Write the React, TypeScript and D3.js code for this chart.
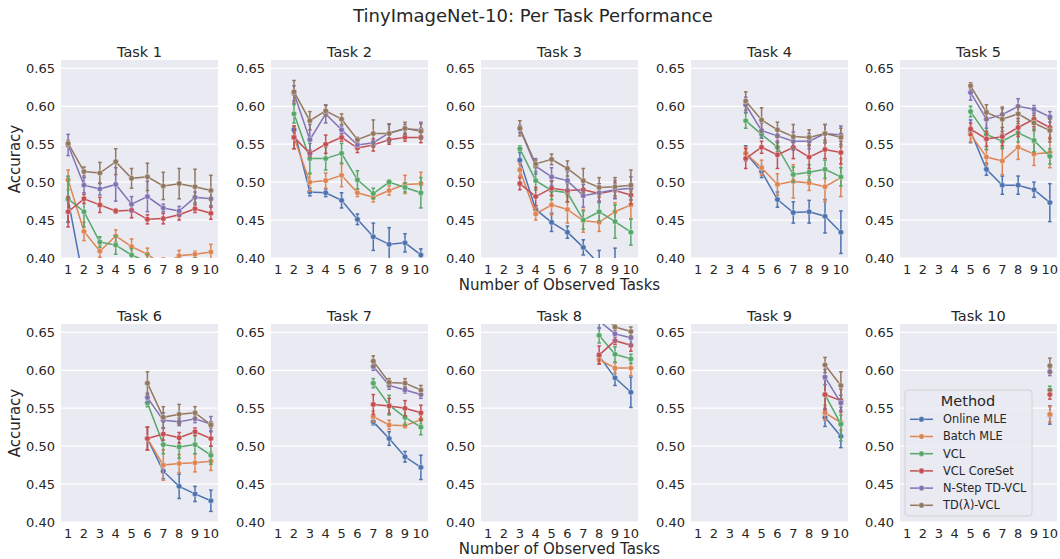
import React from "react";
import * as d3 from "d3";

const methods = ["Online MLE", "Batch MLE", "VCL", "VCL CoreSet", "N-Step TD-VCL", "TD(λ)-VCL"];
const palette = ["#4c72b0", "#dd8452", "#55a868", "#c44e52", "#8172b3", "#937860"];
const taskTitles = ["Task 1", "Task 2", "Task 3", "Task 4", "Task 5", "Task 6", "Task 7", "Task 8", "Task 9", "Task 10"];
const xTicks = [1, 2, 3, 4, 5, 6, 7, 8, 9, 10];
const yTicks = [0.4, 0.45, 0.5, 0.55, 0.6, 0.65];

// accuracy on task t, measured after t, t+1, ..., 10 tasks were observed
const onlineMle = [
  [0.477, 0.367, 0.35, 0.345, 0.34, 0.335, 0.33, 0.33, 0.325, 0.32],
  [0.569, 0.487, 0.486, 0.476, 0.451, 0.428, 0.418, 0.42, 0.404],
  [0.529, 0.464, 0.447, 0.434, 0.414, 0.392, 0.395, 0.38],
  [0.538, 0.514, 0.477, 0.46, 0.461, 0.455, 0.434],
  [0.567, 0.517, 0.496, 0.496, 0.49, 0.473],
  [0.51, 0.467, 0.447, 0.437, 0.428],
  [0.532, 0.51, 0.486, 0.472],
  [0.619, 0.59, 0.571],
  [0.538, 0.513],
  [0.541],
];
const onlineMleErr = [
  [0.03, 0.02, 0.02, 0.02, 0.02, 0.02, 0.02, 0.02, 0.02, 0.02],
  [0.003, 0.005, 0.005, 0.01, 0.007, 0.018, 0.022, 0.012, 0.008],
  [0.01, 0.005, 0.012, 0.008, 0.01, 0.018, 0.018, 0.015],
  [0.01, 0.008, 0.01, 0.014, 0.015, 0.022, 0.028],
  [0.015, 0.008, 0.012, 0.012, 0.01, 0.025],
  [0.015, 0.01, 0.016, 0.01, 0.014],
  [0.004, 0.009, 0.007, 0.016],
  [0.004, 0.01, 0.02],
  [0.012, 0.015],
  [0.012],
];

const batchMle = [
  [0.503, 0.435, 0.409, 0.429, 0.415, 0.405, 0.39, 0.403, 0.405, 0.408],
  [0.559, 0.5, 0.502, 0.509, 0.486, 0.48, 0.489, 0.497, 0.498],
  [0.516, 0.458, 0.47, 0.464, 0.449, 0.447, 0.461, 0.47],
  [0.538, 0.519, 0.497, 0.501, 0.499, 0.494, 0.506],
  [0.563, 0.533, 0.528, 0.546, 0.537, 0.539],
  [0.51, 0.475, 0.477, 0.478, 0.48],
  [0.539, 0.528, 0.527, 0.535],
  [0.614, 0.603, 0.603],
  [0.544, 0.531],
  [0.542],
];
const batchMleErr = [
  [0.013, 0.012, 0.008, 0.008, 0.01, 0.008, 0.01, 0.007, 0.004, 0.01],
  [0.015, 0.012, 0.01, 0.015, 0.005, 0.006, 0.006, 0.012, 0.015],
  [0.008, 0.008, 0.013, 0.018, 0.015, 0.012, 0.012, 0.018],
  [0.008, 0.01, 0.014, 0.022, 0.01, 0.02, 0.025],
  [0.01, 0.01, 0.018, 0.016, 0.015, 0.02],
  [0.015, 0.02, 0.012, 0.012, 0.012],
  [0.007, 0.006, 0.003, 0.006],
  [0.005, 0.007, 0.01],
  [0.01, 0.01],
  [0.01],
];

const vcl = [
  [0.478, 0.461, 0.421, 0.417, 0.404, 0.395, 0.385, 0.388, 0.39, 0.388],
  [0.59, 0.531, 0.531, 0.538, 0.503, 0.485, 0.5, 0.493, 0.486],
  [0.544, 0.502, 0.489, 0.486, 0.45, 0.461, 0.448, 0.434],
  [0.581, 0.563, 0.546, 0.51, 0.513, 0.517, 0.507],
  [0.593, 0.563, 0.554, 0.565, 0.555, 0.534],
  [0.557, 0.502, 0.499, 0.502, 0.488],
  [0.583, 0.554, 0.538, 0.525],
  [0.646, 0.621, 0.615],
  [0.568, 0.529],
  [0.574],
];
const vclErr = [
  [0.03, 0.02, 0.007, 0.012, 0.008, 0.01, 0.01, 0.01, 0.01, 0.01],
  [0.012, 0.02, 0.015, 0.013, 0.012, 0.007, 0.003, 0.006, 0.02],
  [0.004, 0.012, 0.012, 0.012, 0.012, 0.012, 0.022, 0.017],
  [0.01, 0.005, 0.006, 0.01, 0.01, 0.012, 0.012],
  [0.007, 0.02, 0.01, 0.012, 0.015, 0.01],
  [0.005, 0.012, 0.015, 0.012, 0.012],
  [0.006, 0.013, 0.01, 0.01],
  [0.01, 0.01, 0.006],
  [0.02, 0.022],
  [0.005],
];

const vclCoreSet = [
  [0.461, 0.478, 0.47, 0.462, 0.463, 0.451, 0.452, 0.457, 0.465, 0.459],
  [0.559, 0.538, 0.55, 0.559, 0.545, 0.549, 0.556, 0.559, 0.559],
  [0.498, 0.481, 0.492, 0.489, 0.49, 0.485, 0.489, 0.483],
  [0.531, 0.546, 0.536, 0.546, 0.533, 0.543, 0.539],
  [0.57, 0.557, 0.56, 0.572, 0.583, 0.572],
  [0.51, 0.516, 0.511, 0.519, 0.51],
  [0.555, 0.553, 0.55, 0.544],
  [0.62, 0.639, 0.633],
  [0.568, 0.56],
  [0.568],
];
const vclCoreSetErr = [
  [0.02, 0.006, 0.01, 0.003, 0.01, 0.006, 0.007, 0.007, 0.005, 0.008],
  [0.015, 0.004, 0.012, 0.005, 0.006, 0.008, 0.006, 0.005, 0.007],
  [0.008, 0.012, 0.01, 0.015, 0.01, 0.01, 0.01, 0.012],
  [0.013, 0.008, 0.018, 0.015, 0.015, 0.012, 0.015],
  [0.008, 0.01, 0.012, 0.012, 0.01, 0.015],
  [0.015, 0.008, 0.007, 0.005, 0.01],
  [0.013, 0.01, 0.01, 0.01],
  [0.012, 0.005, 0.008],
  [0.02, 0.015],
  [0.006],
];

const nStepTdVcl = [
  [0.549, 0.496, 0.491, 0.497, 0.471, 0.481, 0.466, 0.462, 0.48, 0.478],
  [0.617, 0.556, 0.59, 0.569, 0.549, 0.552, 0.565, 0.57, 0.569],
  [0.57, 0.521, 0.507, 0.502, 0.482, 0.486, 0.49, 0.492],
  [0.602, 0.568, 0.561, 0.554, 0.554, 0.564, 0.562],
  [0.618, 0.583, 0.589, 0.6, 0.596, 0.586],
  [0.564, 0.534, 0.532, 0.536, 0.529],
  [0.605, 0.58, 0.574, 0.568],
  [0.665, 0.648, 0.643],
  [0.591, 0.557],
  [0.598],
];
const nStepTdVclErr = [
  [0.014, 0.01, 0.008, 0.022, 0.01, 0.02, 0.005, 0.006, 0.007, 0.01],
  [0.01, 0.02, 0.012, 0.005, 0.003, 0.003, 0.012, 0.006, 0.01],
  [0.005, 0.01, 0.012, 0.012, 0.015, 0.012, 0.012, 0.015],
  [0.01, 0.01, 0.008, 0.012, 0.01, 0.012, 0.012],
  [0.01, 0.012, 0.008, 0.01, 0.005, 0.007],
  [0.006, 0.01, 0.005, 0.005, 0.01],
  [0.005, 0.005, 0.004, 0.005],
  [0.01, 0.01, 0.01],
  [0.01, 0.01],
  [0.005],
];

const tdLambdaVcl = [
  [0.551, 0.514, 0.512, 0.527, 0.505, 0.507, 0.495, 0.498, 0.494, 0.489],
  [0.619, 0.581, 0.594, 0.583, 0.556, 0.564, 0.564, 0.571, 0.567],
  [0.571, 0.524, 0.53, 0.518, 0.502, 0.493, 0.494, 0.496],
  [0.607, 0.582, 0.569, 0.56, 0.559, 0.564, 0.559],
  [0.627, 0.592, 0.583, 0.59, 0.578, 0.568],
  [0.583, 0.538, 0.542, 0.544, 0.528],
  [0.612, 0.584, 0.583, 0.574],
  [0.68, 0.657, 0.651],
  [0.607, 0.58],
  [0.606],
];
const tdLambdaVclErr = [
  [0.004, 0.006, 0.014, 0.017, 0.013, 0.018, 0.018, 0.02, 0.023, 0.02],
  [0.015, 0.012, 0.007, 0.007, 0.003, 0.018, 0.012, 0.008, 0.01],
  [0.01, 0.005, 0.007, 0.01, 0.016, 0.013, 0.012, 0.02],
  [0.012, 0.016, 0.01, 0.016, 0.01, 0.012, 0.012],
  [0.004, 0.01, 0.016, 0.01, 0.01, 0.015],
  [0.015, 0.014, 0.013, 0.008, 0.004],
  [0.007, 0.005, 0.006, 0.006],
  [0.01, 0.004, 0.006],
  [0.01, 0.018],
  [0.01],
];

const means = [onlineMle, batchMle, vcl, vclCoreSet, nStepTdVcl, tdLambdaVcl];
const errs = [onlineMleErr, batchMleErr, vclErr, vclCoreSetErr, nStepTdVclErr, tdLambdaVclErr];

const FONT = "DejaVu Sans, sans-serif";
const TEXT = "#262626";
const panelW = 157;
const panelH = 198;
const colLeft = [61, 271, 481, 691, 900];
const rowTop = [60, 324];

const x = d3.scaleLinear().domain([0.55, 10.45]).range([0, panelW]);
const y = d3.scaleLinear().domain([0.4, 0.661]).range([panelH, 0]);

function Panel({ t }: { t: number }) {
  const col = t % 5;
  const row = Math.floor(t / 5);
  const line = d3.line<[number, number]>().x((d) => x(d[0])).y((d) => y(d[1]));
  return (
    <g transform={`translate(${colLeft[col]},${rowTop[row]})`}>
      <defs>
        <clipPath id={`clip${t}`}>
          <rect width={panelW} height={panelH} />
        </clipPath>
      </defs>
      <rect width={panelW} height={panelH} fill="#eaeaf2" />
      {yTicks.map((v) => (
        <g key={v}>
          <line x1={0} x2={panelW} y1={y(v)} y2={y(v)} stroke="#fff" strokeWidth={1.2} />
          <text x={-6} y={y(v)} dy="0.35em" textAnchor="end" fontSize={13} fill={TEXT}>
            {v.toFixed(2)}
          </text>
        </g>
      ))}
      {xTicks.map((v) => (
        <text key={v} x={x(v)} y={panelH + 16} textAnchor="middle" fontSize={13} fill={TEXT}>
          {v}
        </text>
      ))}
      <text x={panelW / 2} y={-3.5} textAnchor="middle" fontSize={14.5} fill={TEXT}>
        {taskTitles[t]}
      </text>
      <g clipPath={`url(#clip${t})`}>
        {means.map((m, k) => {
          const pts: [number, number][] = m[t].map((v, i) => [t + 1 + i, v]);
          const e = errs[k][t];
          return (
            <g key={k} stroke={palette[k]} fill={palette[k]}>
              <path d={line(pts) || ""} fill="none" strokeWidth={1.5} />
              {pts.map(([n, v], i) => (
                <g key={i}>
                  <line x1={x(n)} x2={x(n)} y1={y(v - e[i])} y2={y(v + e[i])} strokeWidth={1.5} />
                  <line x1={x(n) - 1.8} x2={x(n) + 1.8} y1={y(v - e[i])} y2={y(v - e[i])} strokeWidth={1.5} />
                  <line x1={x(n) - 1.8} x2={x(n) + 1.8} y1={y(v + e[i])} y2={y(v + e[i])} strokeWidth={1.5} />
                  <circle cx={x(n)} cy={y(v)} r={2.8} stroke="#fff" strokeWidth={0.4} />
                </g>
              ))}
            </g>
          );
        })}
      </g>
    </g>
  );
}

function Legend() {
  const lx = 905;
  const ly = 390;
  return (
    <g>
      <rect x={lx} y={ly} width={127} height={126} rx={3} fill="#eaeaf2" fillOpacity={0.8} stroke="#cccccc" strokeWidth={0.8} />
      <text x={lx + 63} y={ly + 11} dy="0.35em" textAnchor="middle" fontSize={14.5} fill={TEXT}>
        Method
      </text>
      {methods.map((name, k) => {
        const yy = ly + 29.3 + k * 17.2;
        return (
          <g key={name}>
            <line x1={lx + 5} x2={lx + 28} y1={yy} y2={yy} stroke={palette[k]} strokeWidth={1.5} />
            <circle cx={lx + 16.5} cy={yy} r={2.8} fill={palette[k]} stroke="#fff" strokeWidth={0.4} />
            <text x={lx + 38} y={yy} dy="0.35em" fontSize={11.4} fill={TEXT}>
              {name}
            </text>
          </g>
        );
      })}
    </g>
  );
}

export default function App() {
  return (
    <svg width={1060} height={559} style={{ position: "absolute", left: 0, top: 0 }} fontFamily={FONT}>
      <rect width={1060} height={559} fill="#fff" />
      <text x={533} y={21.7} textAnchor="middle" fontSize={18} fill={TEXT}>
        TinyImageNet-10: Per Task Performance
      </text>
      {taskTitles.map((_, t) => (
        <Panel key={t} t={t} />
      ))}
      {rowTop.map((top) => (
        <g key={top}>
          <text x={colLeft[2] + panelW / 2} y={top + panelH + 32} textAnchor="middle" fontSize={15} fill={TEXT}>
            Number of Observed Tasks
          </text>
          <text transform={`translate(20,${top + panelH / 2}) rotate(-90)`} textAnchor="middle" fontSize={15} fill={TEXT}>
            Accuracy
          </text>
        </g>
      ))}
      <Legend />
    </svg>
  );
}
